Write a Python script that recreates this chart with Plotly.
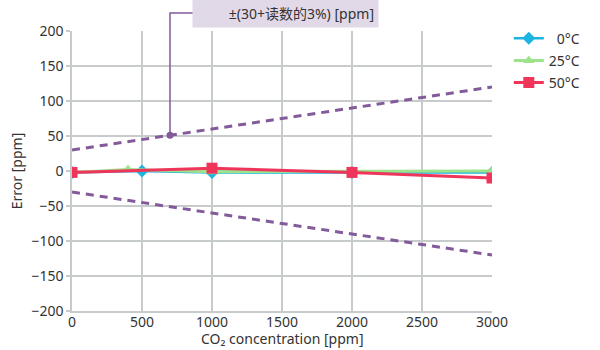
import plotly.graph_objects as go

# Data
x_0c = [0, 500, 1000, 2000, 3000]
y_0c = [-2, 0, -2, -2, -2]
x_25c = [0, 400, 1000, 2000, 3000]
y_25c = [-2, 2, -1, -1, 0]
x_50c = [0, 1000, 2000, 3000]
y_50c = [-2, 4, -2, -10]
x_limit = [0, 3000]
y_upper = [30, 120]
y_lower = [-30, -120]
label_x = 700
label_y = 30 + 0.03 * label_x
label_text = "±(30+读数的3%) [ppm]"
x_ticks = [0, 500, 1000, 1500, 2000, 2500, 3000]
y_ticks = [-200, -150, -100, -50, 0, 50, 100, 150, 200]

FONT = "Noto Sans, Noto Sans CJK SC, sans-serif"
PURPLE = "#835a9a"
GRID = "#c8cbcc"

fig = go.Figure()
fig.add_trace(go.Scatter(x=x_limit, y=y_upper, mode="lines", showlegend=False,
                         line=dict(color=PURPLE, width=3, dash="8px,6px"), hoverinfo="skip"))
fig.add_trace(go.Scatter(x=x_limit, y=y_lower, mode="lines", showlegend=False,
                         line=dict(color=PURPLE, width=3, dash="8px,6px"), hoverinfo="skip"))
fig.add_trace(go.Scatter(x=x_0c, y=y_0c, mode="lines+markers", name="\u20070°C",
                         legendgroup="a",
                         line=dict(color="#1eb4e0", width=2.5),
                         marker=dict(symbol="diamond", size=10, color="#1eb4e0")))
fig.add_trace(go.Scatter(x=x_25c, y=y_25c, mode="lines+markers", name="25°C",
                         legendgroup="b",
                         line=dict(color="#9de38b", width=3),
                         marker=dict(symbol="triangle-up", size=10, color="#9de38b")))
fig.add_trace(go.Scatter(x=x_50c, y=y_50c, mode="lines+markers", name="50°C",
                         legendgroup="c",
                         line=dict(color="#f0355b", width=3),
                         marker=dict(symbol="square", size=11, color="#f0355b")))
fig.add_trace(go.Scatter(x=[label_x], y=[label_y], mode="markers", showlegend=False,
                         marker=dict(color=PURPLE, size=7), hoverinfo="skip"))

py = (label_y + 200) / 400.0
fig.add_shape(type="path", xref="x", yref="paper", layer="above",
              path=f"M {label_x},{py} L {label_x},1.064 L 870,1.064",
              line=dict(color=PURPLE, width=1.5))

fig.add_annotation(text=label_text, xref="paper", yref="paper", x=0.732, y=1.064,
                   xanchor="right", yanchor="middle", showarrow=False,
                   bgcolor="#e2d9e8", borderpad=4, width=177, align="right",
                   font=dict(family=FONT, size=14, color="#333333"))

fig.add_annotation(text="CO₂ concentration [ppm]", xref="paper", yref="paper",
                   x=0.5, y=-0.098, xanchor="center", yanchor="middle", showarrow=False,
                   font=dict(family=FONT, size=14, color="#333333"))

fig.update_layout(
    width=600, height=350,
    margin=dict(l=72, r=108, t=31, b=39, autoexpand=False),
    paper_bgcolor="white", plot_bgcolor="white",
    font=dict(family=FONT, size=14, color="#333333"),
    legend=dict(x=1.04, y=1.03, xanchor="left", yanchor="top",
                font=dict(family=FONT, size=14, color="#333333"),
                tracegroupgap=1, bgcolor="rgba(0,0,0,0)"),
)
fig.update_xaxes(range=[0, 3000], tickvals=x_ticks, showgrid=True, gridcolor=GRID, gridwidth=1.5,
                 showline=True, linecolor=GRID, linewidth=1.5, zeroline=False,
                 ticks="", ticklen=0, ticklabelstandoff=-3, tickfont=dict(size=14), automargin=False)
fig.update_yaxes(range=[-200, 200], tickvals=y_ticks, showgrid=True, gridcolor=GRID, gridwidth=1.5,
                 showline=True, linecolor=GRID, linewidth=1.5, zeroline=False,
                 ticks="outside", ticklen=4, tickcolor=GRID, tickwidth=1.5,
                 tickfont=dict(size=14), automargin=False,
                 title=dict(text="Error [ppm]", font=dict(size=14), standoff=6))

fig.write_html("out.html")
